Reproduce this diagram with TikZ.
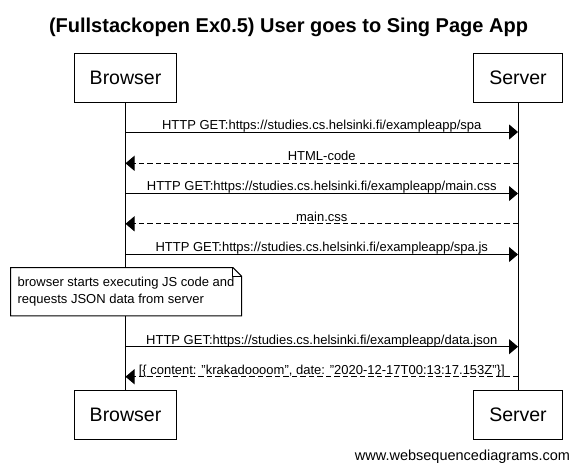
\documentclass[tikz,border=0pt]{standalone}
\usepackage{fontspec}
\setmainfont{Liberation Sans}
\usepackage{tikz}
\usetikzlibrary{positioning,arrows.meta}

\tikzset{
  actor/.style={draw, line width=1pt, minimum width=#1, minimum height=49pt, inner sep=0pt, font=\fontsize{19.5}{22}\selectfont},
  msg/.style={line width=1pt, -{Triangle[length=9pt,width=15pt]}},
  reply/.style={msg, dash pattern=on 5.5pt off 3pt},
  lbl/.style={anchor=base, inner sep=0pt, yshift=2.7pt, font=\fontsize{13}{15}\selectfont},
  notebox/.style={fill=white, inner sep=0pt, minimum width=230.6pt, minimum height=48pt, align=left, font=\fontsize{13}{16.7}\selectfont}
}

\begin{document}
\begin{tikzpicture}[x=1pt,y=-1pt]
				\useasboundingbox (0,0) rectangle (577,474);
				% Title
				\node[anchor=base, font=\bfseries\fontsize{20}{23}\selectfont] (title) at (288.5,32.5) {(Fullstackopen Ex0.5) User goes to Sing Page App};
				% Participants
				\node[actor=102pt] (browserTop) at (125.5,77.7) {Browser};
				\node[actor=89pt] (serverTop) at (518,77.7) {Server};
				\node[actor=102pt] (browserBot) at (125.5,414.7) {Browser};
				\node[actor=89pt] (serverBot) at (518,414.7) {Server};
				\draw[line width=1pt] (browserTop) -- (browserBot);
				\draw[line width=1pt] (serverTop) -- (serverBot);
				% Message end points
				\coordinate []  (b1) at (125.5,132)  ;
				\coordinate []  (s1) at (518,132) ;
				\coordinate []  (b2) at (125.5,163.3)  ;
				\coordinate []  (s2) at (518,163.3) ;
				\coordinate []  (b3) at (125.5,193.5)  ;
				\coordinate []  (s3) at (518,193.5) ;
				\coordinate []  (b4) at (125.5,223.8)  ;
				\coordinate []  (s4) at (518,223.8) ;
				\coordinate []  (b5) at (125.5,254.5)  ;
				\coordinate []  (s5) at (518,254.5) ;
				\coordinate []  (b6) at (125.5,346.7)  ;
				\coordinate []  (s6) at (518,346.7) ;
				\coordinate []  (b7) at (125.5,376.7)  ;
				\coordinate []  (s7) at (518,376.7) ;
				\draw[msg] (b1) -- node[lbl] {HTTP GET:https://studies.cs.helsinki.fi/exampleapp/spa} (s1);
				\draw[reply] (s2) -- node[lbl] {HTML-code} (b2);
				\draw[msg] (b3) -- node[lbl] {HTTP GET:https://studies.cs.helsinki.fi/exampleapp/main.css} (s3);
				\draw[reply] (s4) -- node[lbl] {main.css} (b4);
				\draw[msg] (b5) -- node[lbl] {HTTP GET:https://studies.cs.helsinki.fi/exampleapp/spa.js} (s5);
				% Note over the browser
				\node[notebox] (note) at (126,291.7) {browser starts executing JS code and\\requests JSON data from server};
				\draw[line width=1pt] (note.south west) -- (note.north west) -- ([xshift=-8.7pt]note.north east) -- ([yshift=-8.7pt]note.north east) -- (note.south east) -- cycle;
				\draw[line width=0.8pt] ([xshift=-8.7pt]note.north east) -- ([xshift=-8.7pt,yshift=-8.7pt]note.north east) -- ([yshift=-8.7pt]note.north east);
				\draw[msg] (b6) -- node[lbl] {HTTP GET:https://studies.cs.helsinki.fi/exampleapp/data.json} (s6);
				\draw[reply] (s7) -- node[lbl] {[\{ content: \symbol{34}krakadoooom\symbol{34}, date: \symbol{34}2020-12-17T00:13:17.153Z\symbol{34}\}]} (b7);
				% Footer
				\node[anchor=base, font=\fontsize{14.5}{17}\selectfont] (footer) at (462.5,460.5) {www.websequencediagrams.com};
			\end{tikzpicture}
\end{document}
